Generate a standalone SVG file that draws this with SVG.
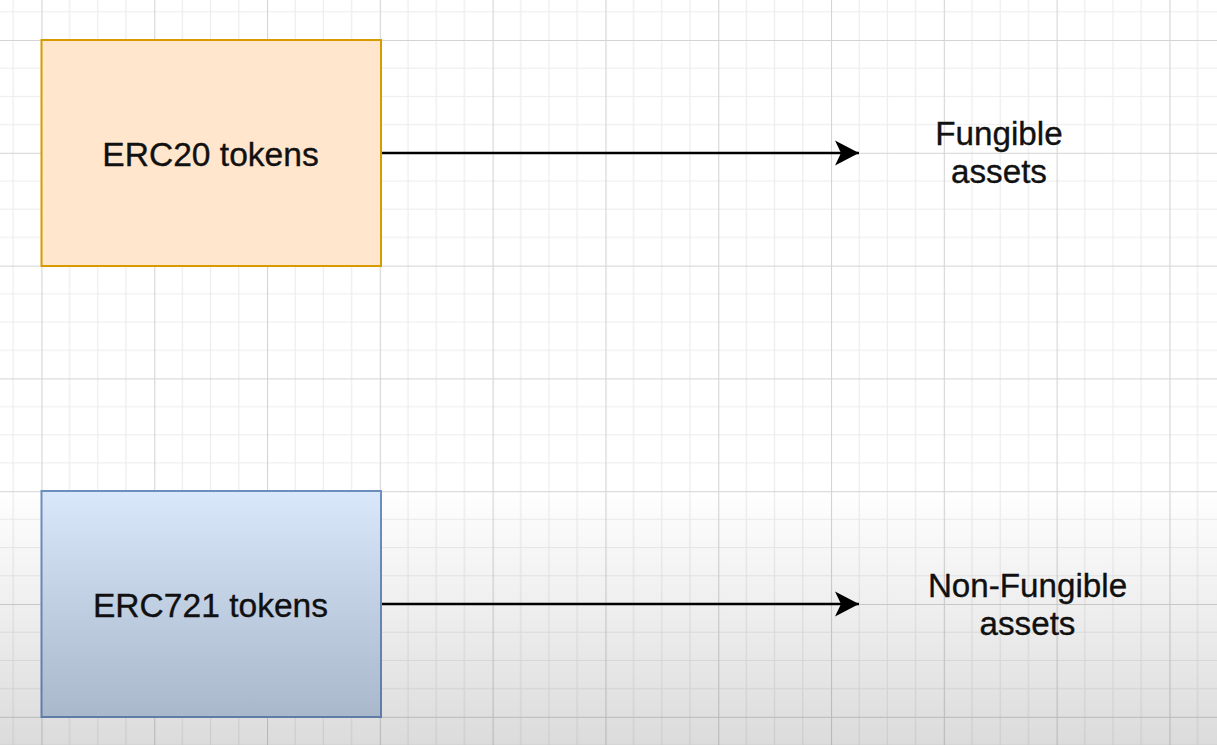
<svg xmlns="http://www.w3.org/2000/svg" width="1217" height="745" viewBox="0 0 1217 745">
  <style>
    .lbl { font-family: "Liberation Sans", Arial, sans-serif; fill: #111; text-anchor: middle; stroke: #111; stroke-width: 0.35; }
    .big { font-size: 33.6px; }
    .mid { font-size: 33.2px; }
    .edge { stroke: #000; stroke-width: 2.4; fill: none; }
  </style>
  <defs>
    <pattern id="grid" patternUnits="userSpaceOnUse" x="41.4" y="40" width="112.8" height="112.8">
      <path d="M28.2 0V112.8M56.4 0V112.8M84.6 0V112.8M0 28.2H112.8M0 56.4H112.8M0 84.6H112.8" stroke="#ececec" stroke-width="1.2" fill="none"/>
      <path d="M0.5 0V112.8M0 0.5H112.8" stroke="#d4d4d4" stroke-width="1.2" fill="none"/>
    </pattern>
    <linearGradient id="blueFill" x1="0" y1="0" x2="0" y2="1">
      <stop offset="0" stop-color="#dae8fc"/>
      <stop offset="1" stop-color="#c2d2e8"/>
    </linearGradient>
    <linearGradient id="shade" x1="0" y1="0" x2="0" y2="1">
      <stop offset="0" stop-color="#000" stop-opacity="0"/>
      <stop offset="1" stop-color="#000" stop-opacity="0.14"/>
    </linearGradient>
    <marker id="arrow" markerUnits="userSpaceOnUse" markerWidth="30" markerHeight="30" viewBox="0 0 30 30" refX="25" refY="15" orient="auto">
      <path d="M1 2.5 L25 15 L1 27.5 L7 15 Z" fill="#000"/>
    </marker>
  </defs>
  <rect width="1217" height="745" fill="#ffffff"/>
  <rect width="1217" height="745" fill="url(#grid)"/>

  <g id="connectors">
    <path class="edge" d="M381 153 H859" marker-end="url(#arrow)"/>
    <path class="edge" d="M381 604 H859" marker-end="url(#arrow)"/>
  </g>

  <g id="erc20">
    <rect x="41.5" y="40" width="339.5" height="226" fill="#ffe6cc" stroke="#d79b00" stroke-width="2"/>
    <text class="lbl big" x="210.5" y="166">ERC20 tokens</text>
  </g>

  <g id="erc721">
    <rect x="41.5" y="491" width="339.5" height="226" fill="url(#blueFill)" stroke="#6c8ebf" stroke-width="2"/>
    <text class="lbl big" x="210.5" y="617">ERC721 tokens</text>
  </g>

  <g id="fungible">
    <text class="lbl mid" x="999" y="145">Fungible</text>
    <text class="lbl mid" x="999" y="183">assets</text>
  </g>

  <g id="nonfungible">
    <text class="lbl mid" x="1027.5" y="596.5">Non-Fungible</text>
    <text class="lbl mid" x="1027.5" y="635">assets</text>
  </g>

  <rect x="0" y="488" width="1217" height="257" fill="url(#shade)"/>
</svg>
